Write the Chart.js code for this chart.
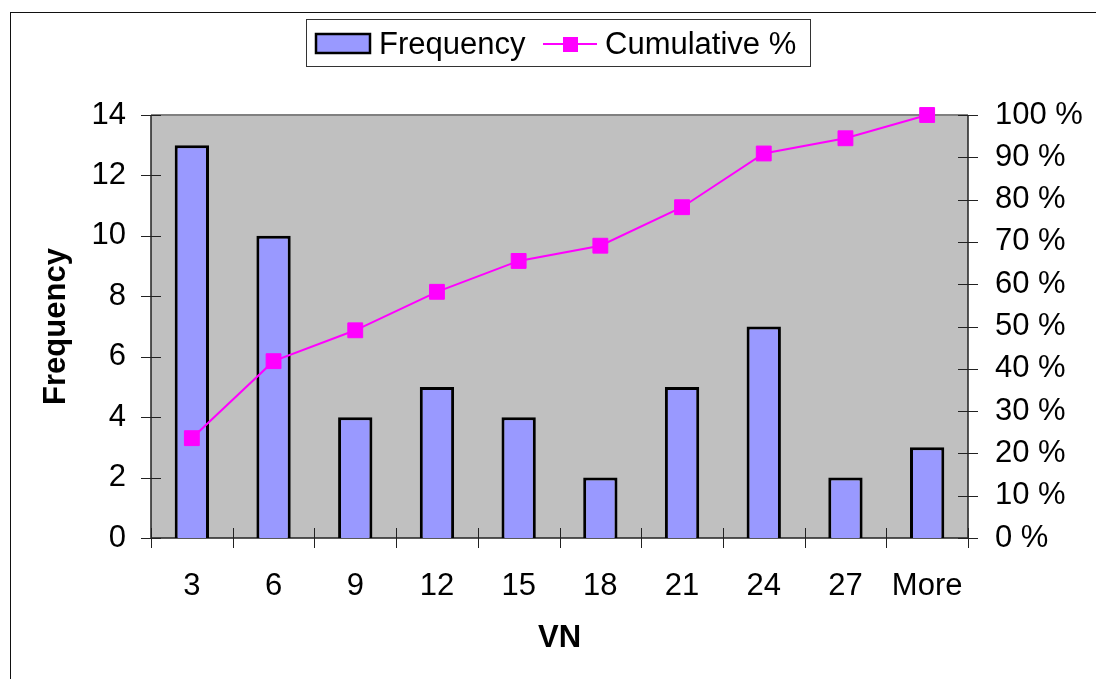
<!DOCTYPE html>
<html>
<head>
<meta charset="utf-8">
<title>VN histogram</title>
<script src="https://cdn.jsdelivr.net/npm/chart.js@4/dist/chart.umd.min.js"></script>
<style>
  html, body { margin: 0; padding: 0; background: #fff; }
  #wrap { width: 1096px; height: 679px; }
</style>
</head>
<body>
<div id="wrap"><canvas id="histo" width="1096" height="679"></canvas></div>
<script>
// bins and counts
const categories = ['3', '6', '9', '12', '15', '18', '21', '24', '27', 'More'];
const frequency = [13, 10, 4, 5, 4, 2, 5, 7, 2, 3];
const cumulativePct = [23.6, 41.8, 49.1, 58.2, 65.5, 69.1, 78.2, 90.9, 94.5, 100];

const FONT = 'Liberation Sans, Arial, sans-serif';
const BAR_FILL = '#9999ff';
const LINE_COLOR = '#ff00ff';

// frame, grey plot background and the boxed legend
const excelLook = {
    id: 'excelLook',
    beforeDraw(chart) {
        const { ctx, chartArea: a } = chart;
        ctx.save();
        ctx.fillStyle = '#fff';
        ctx.fillRect(0, 0, chart.width, chart.height);
        ctx.strokeStyle = '#111';
        ctx.lineWidth = 1;
        ctx.strokeRect(10.5, 12.5, 1200, 1000);

        ctx.fillStyle = '#c0c0c0';
        ctx.fillRect(a.left, a.top, a.right - a.left, a.bottom - a.top);
        ctx.strokeStyle = '#808080';
        ctx.lineWidth = 2;
        ctx.beginPath();
        ctx.moveTo(a.left, a.top);
        ctx.lineTo(a.right, a.top);
        ctx.stroke();
        ctx.restore();
    },
    beforeDatasetsDraw(chart) {
        const { ctx, chartArea: a, scales } = chart;
        ctx.save();
        ctx.strokeStyle = '#222';
        ctx.lineWidth = 1.5;

        // axis lines
        ctx.beginPath();
        ctx.moveTo(a.left, a.top);
        ctx.lineTo(a.left, a.bottom);
        ctx.lineTo(a.right, a.bottom);
        ctx.moveTo(a.right, a.top);
        ctx.lineTo(a.right, a.bottom);
        ctx.stroke();

        // cross ticks on both value axes
        ctx.lineWidth = 1;
        ctx.beginPath();
        scales.y.ticks.forEach((t, i) => {
            const py = Math.round(scales.y.getPixelForTick(i)) + 0.5;
            ctx.moveTo(a.left - 10, py);
            ctx.lineTo(a.left + 10, py);
        });
        scales.y1.ticks.forEach((t, i) => {
            const py = Math.round(scales.y1.getPixelForTick(i)) + 0.5;
            ctx.moveTo(a.right - 10, py);
            ctx.lineTo(a.right + 10, py);
        });
        // category boundaries
        const x = scales.x;
        const step = x.getPixelForTick(1) - x.getPixelForTick(0);
        for (let i = 0; i <= categories.length; i++) {
            const px = Math.round(x.getPixelForTick(0) - step / 2 + i * step) + 0.5;
            ctx.moveTo(px, a.bottom - 10);
            ctx.lineTo(px, a.bottom + 10);
        }
        ctx.stroke();
        ctx.restore();
    },
    afterDraw(chart) {
        const { ctx } = chart;
        ctx.save();
        // legend box
        ctx.strokeStyle = '#333';
        ctx.lineWidth = 1;
        ctx.strokeRect(306.5, 19.5, 504, 47);

        ctx.fillStyle = BAR_FILL;
        ctx.fillRect(316, 34, 54, 19);
        ctx.strokeStyle = '#000';
        ctx.lineWidth = 2.5;
        ctx.strokeRect(316, 34, 54, 19);

        ctx.strokeStyle = LINE_COLOR;
        ctx.lineWidth = 2;
        ctx.beginPath();
        ctx.moveTo(543, 44);
        ctx.lineTo(597, 44);
        ctx.stroke();
        ctx.fillStyle = LINE_COLOR;
        ctx.fillRect(563, 37, 15, 15);

        ctx.fillStyle = '#000';
        ctx.font = '31px ' + FONT;
        ctx.textBaseline = 'alphabetic';
        ctx.textAlign = 'left';
        ctx.fillText('Frequency', 379, 54);
        ctx.fillText('Cumulative %', 605, 54);
        ctx.restore();
    }
};

const tickFont = { family: FONT, size: 31, lineHeight: 1.2 };
const titleFont = { family: FONT, size: 31, weight: 'bold', lineHeight: 1.2 };

new Chart(document.getElementById('histo'), {
    data: {
        labels: categories,
        datasets: [
            {
                type: 'line',
                label: 'Cumulative %',
                data: cumulativePct,
                yAxisID: 'y1',
                borderColor: LINE_COLOR,
                backgroundColor: LINE_COLOR,
                borderWidth: 2,
                pointStyle: 'rect',
                pointRadius: 10.5,
                pointBorderWidth: 1,
                tension: 0,
                clip: false,
                order: 0
            },
            {
                type: 'bar',
                label: 'Frequency',
                data: frequency,
                yAxisID: 'y',
                backgroundColor: BAR_FILL,
                borderColor: '#000',
                borderWidth: 3,
                barPercentage: 0.42,
                categoryPercentage: 1,
                order: 1
            }
        ]
    },
    options: {
        responsive: false,
        animation: false,
        events: [],
        layout: { padding: { top: 115, left: 0, right: 0, bottom: 0 } },
        plugins: {
            legend: { display: false },
            tooltip: { enabled: false }
        },
        scales: {
            x: {
                type: 'category',
                offset: true,
                grid: { display: false },
                border: { display: false },
                ticks: { font: tickFont, color: '#000', padding: 22, maxRotation: 0, autoSkip: false },
                title: { display: true, text: 'VN', font: titleFont, color: '#000', padding: { top: 0, bottom: 22 } },
                afterFit(s) { s.height = 141; }
            },
            y: {
                position: 'left',
                min: 0,
                max: 14,
                grid: { display: false },
                border: { display: false },
                ticks: { stepSize: 2, font: tickFont, color: '#000', padding: 17 },
                title: { display: true, text: 'Frequency', font: titleFont, color: '#000', padding: { top: 38, bottom: 0 } },
                afterFit(s) { s.width = 151; }
            },
            y1: {
                position: 'right',
                min: 0,
                max: 100,
                grid: { display: false },
                border: { display: false },
                ticks: { stepSize: 10, font: tickFont, color: '#000', padding: 19, callback: v => v + ' %' },
                afterFit(s) { s.width = 128; }
            }
        }
    },
    plugins: [excelLook]
});
</script>
</body>
</html>
